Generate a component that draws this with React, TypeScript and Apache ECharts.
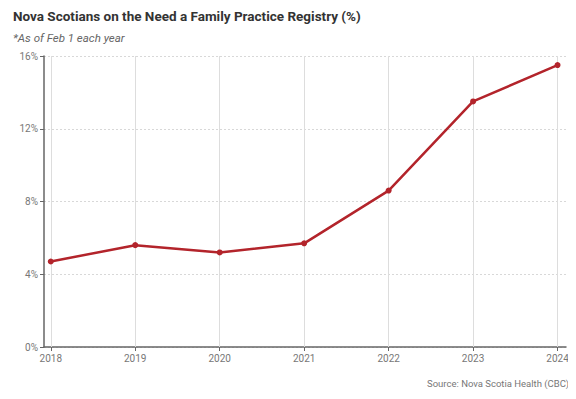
import React, { useEffect, useRef } from "react";
import * as echarts from "echarts";

const years = [2018, 2019, 2020, 2021, 2022, 2023, 2024];
const values = [4.7, 5.6, 5.2, 5.7, 8.6, 13.5, 15.5];
const yTicks = [0, 4, 8, 12, 16];

const titleText = "Nova Scotians on the Need a Family Practice Registry (%)";
const subtitleText = "*As of Feb 1 each year";
const sourceText = "Source: Nova Scotia Health (CBC)";

export default function App() {
  const ref = useRef<HTMLDivElement>(null);
  useEffect(() => {
    const chart = echarts.init(ref.current!, null, { renderer: "svg" });
    chart.setOption({
      animation: false,
      backgroundColor: "#ffffff",
      textStyle: { fontFamily: "Roboto" },
      title: [
        {
          text: titleText,
          left: 8,
          top: 4,
          textStyle: { fontFamily: "Roboto", fontWeight: "bold", fontSize: 13.5, color: "#333333" },
        },
        {
          text: subtitleText,
          left: 8,
          top: 27,
          textStyle: { fontFamily: "Roboto", fontStyle: "italic", fontWeight: "normal", fontSize: 11.5, color: "#666666" },
        },
        {
          text: sourceText,
          right: 7,
          top: 378,
          padding: [0, 0, 0, 0],
          textStyle: { fontFamily: "Roboto", fontWeight: "normal", fontSize: 9.5, color: "#777777" },
        },
      ],
      grid: { left: 44, right: 10, top: 56, bottom: 52, containLabel: false },
      xAxis: {
        type: "value",
        min: 2017.92,
        max: 2024.1,
        axisLine: { show: true, lineStyle: { color: "#666666", width: 1.5 } },
        axisTick: { show: true, length: 4, customValues: years, lineStyle: { color: "#666666" } },
        axisLabel: {
          customValues: years,
          formatter: (v: number) => String(v),
          color: "#777777",
          fontSize: 10,
          margin: 6,
        },
        splitLine: { show: false },
      },
      yAxis: {
        type: "value",
        min: yTicks[0],
        max: yTicks[yTicks.length - 1],
        interval: 4,
        axisLine: { show: true, lineStyle: { color: "#666666", width: 1.5 } },
        axisTick: { show: true, length: 4, lineStyle: { color: "#666666" } },
        axisLabel: { formatter: "{value}%", color: "#777777", fontSize: 10, margin: 6 },
        splitLine: { show: true, lineStyle: { color: "#d8d8d8", type: [2, 2], width: 1 } },
      },
      series: [
        {
          type: "line",
          data: years.map((y, i) => [y, values[i]]),
          symbol: "circle",
          symbolSize: 6,
          lineStyle: { color: "#b3242b", width: 2.5 },
          itemStyle: { color: "#b3242b" },
          z: 5,
          markLine: {
            silent: true,
            symbol: "none",
            label: { show: false },
            lineStyle: { color: "#dddddd", type: "solid", width: 1 },
            data: years.map((y) => ({ xAxis: y })),
            z: 1,
          },
        },
      ],
    });
    return () => chart.dispose();
  }, []);
  return <div ref={ref} style={{ width: 576, height: 399, margin: -8 }} />;
}
